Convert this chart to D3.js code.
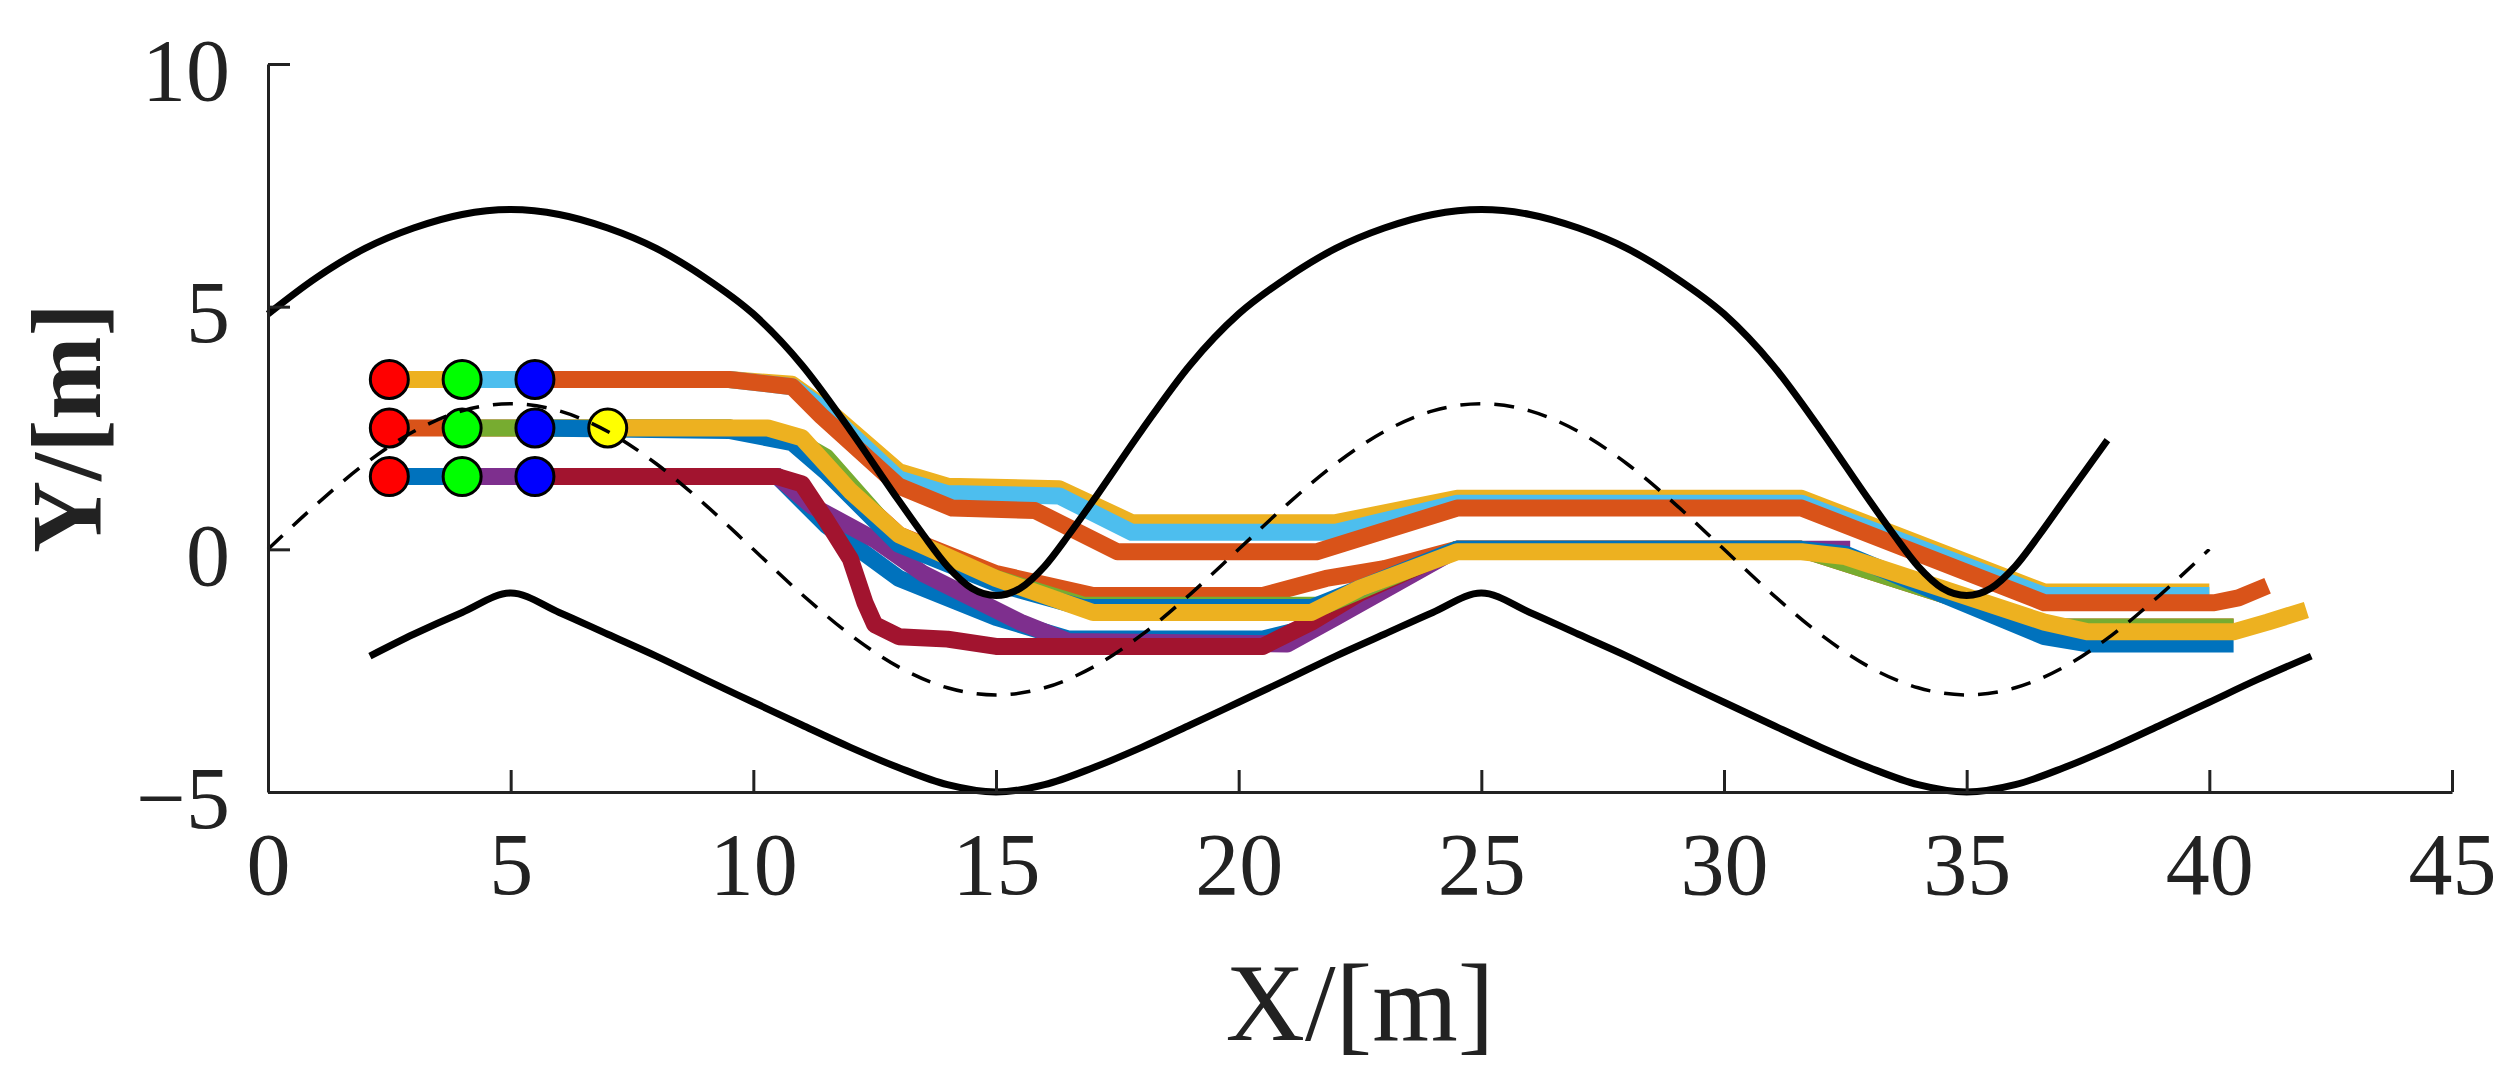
<!DOCTYPE html>
<html><head><meta charset="utf-8">
<script src="https://cdn.jsdelivr.net/npm/d3@7"></script>
<style>body{margin:0;background:#fff}</style></head>
<body><svg id="c" width="2508" height="1073"></svg>
<script>
const xTicks=[0,5,10,15,20,25,30,35,40,45];
const yTicks=[-5,0,5,10];
const upperBound=[[0,4.85],[1,5.6],[2,6.2],[3,6.62],[4,6.9],[5,7.0],[6,6.9],[7,6.62],[8,6.2],[9,5.6],[10,4.85],[11,3.8],[12,2.45],[13,1.0],[13.5,0.3],[14,-0.35],[14.5,-0.8],[15,-0.95],[15.5,-0.8],[16,-0.35],[16.5,0.3],[17,1.0],[18,2.45],[19,3.8],[20,4.85],[21,5.6],[22,6.2],[23,6.62],[24,6.9],[25,7],[26,6.9],[27,6.62],[28,6.2],[29,5.6],[30,4.85],[31,3.8],[32,2.45],[33,1.0],[33.5,0.3],[34,-0.35],[34.5,-0.8],[35,-0.95],[35.5,-0.8],[36,-0.35],[36.5,0.3],[37,1.0],[37.9,2.25]];
const lowerBound=[[2.1,-2.2],[3,-1.75],[4,-1.3],[5,-0.9],[6,-1.3],[7,-1.75],[8,-2.2],[9,-2.68],[10,-3.15],[11,-3.62],[12,-4.08],[13,-4.5],[14,-4.85],[15,-5],[16,-4.85],[17,-4.5],[18,-4.08],[19,-3.62],[20,-3.15],[21,-2.68],[22,-2.2],[23,-1.75],[24,-1.3],[25,-0.9],[26,-1.3],[27,-1.75],[28,-2.2],[29,-2.68],[30,-3.15],[31,-3.62],[32,-4.08],[33,-4.5],[34,-4.85],[35,-5],[36,-4.85],[37,-4.5],[38,-4.08],[39,-3.62],[40,-3.15],[41,-2.68],[42.1,-2.2]];
const centerLine=[[0,0],[1,0.927],[2,1.763],[3,2.427],[4,2.853],[5,3],[6,2.853],[7,2.427],[8,1.763],[9,0.927],[10,0],[11,-0.927],[12,-1.763],[13,-2.427],[14,-2.853],[15,-3],[16,-2.853],[17,-2.427],[18,-1.763],[19,-0.927],[20,0],[21,0.927],[22,1.763],[23,2.427],[24,2.853],[25,3],[26,2.853],[27,2.427],[28,1.763],[29,0.927],[30,0],[31,-0.927],[32,-1.763],[33,-2.427],[34,-2.853],[35,-3],[36,-2.853],[37,-2.427],[38,-1.763],[39,-0.927],[40,0]];
const trajTopYellow=[[2.5,3.5],[9.5,3.5],[10.8,3.4],[11.5,2.9],[13,1.6],[14,1.3],[16.3,1.25],[17.8,0.55],[22,0.55],[24.5,1.05],[31.6,1.05],[36.6,-0.88],[40,-0.88]];
const trajTopLightBlue=[[4,3.5],[9.5,3.5],[10.8,3.35],[11.5,2.85],[13,1.45],[14,1.15],[16.3,1.1],[17.8,0.35],[22,0.35],[24.5,0.95],[31.6,0.95],[36.6,-0.95],[40,-0.95]];
const trajTopOrange=[[5.5,3.5],[9.5,3.5],[10.8,3.35],[11.4,2.75],[13,1.3],[14.1,0.85],[15.8,0.8],[17.5,-0.05],[21.6,-0.05],[24.5,0.85],[31.6,0.85],[36.6,-1.1],[40.1,-1.1],[40.6,-1.0],[41.2,-0.75]];
const trajBotBlue=[[2.5,1.5],[10.5,1.5],[11.5,0.5],[13,-0.6],[15,-1.4],[16.5,-1.85],[20.5,-1.85],[21.5,-1.6],[24.5,0],[31.6,0]];
const trajBotPurple=[[4,1.5],[10.5,1.5],[11.2,0.9],[12.5,0.2],[13.5,-0.5],[15.5,-1.5],[16.5,-1.9],[21,-1.95],[22,-1.4],[24.5,0],[32.6,0]];
const trajBotRed=[[5.5,1.5],[10.5,1.5],[11,1.35],[11.5,0.6],[12,-0.2],[12.3,-1.1],[12.5,-1.55],[13,-1.8],[14,-1.85],[15,-2.0],[20.5,-2.0],[21.5,-1.5],[22.5,-0.9],[24.5,0],[31.6,0]];
const trajMidOrange=[[2.5,2.5],[9.5,2.5],[10.8,2.3],[13,0.3],[15,-0.5],[17,-0.95],[20.5,-0.95],[21.8,-0.6],[23,-0.4],[24.5,0],[31.6,0],[36.6,-1.6],[40.5,-1.6]];
const trajMidGreen=[[4,2.5],[9.5,2.5],[10.8,2.3],[11.5,1.9],[13,0.2],[15,-0.6],[16.8,-1.15],[21.8,-1.15],[24.5,0],[31.6,0],[36.6,-1.6],[40.5,-1.6]];
const trajMidBlue=[[5.5,2.5],[9.5,2.45],[10.8,2.2],[11.5,1.6],[13,0.1],[15,-0.7],[16.8,-1.2],[21.5,-1.2],[24.5,0],[31.6,0],[32.5,-0.1],[36.6,-1.8],[37.5,-1.95],[40.5,-1.95]];
const trajMidYellow=[[7,2.5],[10.3,2.5],[11,2.3],[12,1.2],[13,0.3],[15,-0.6],[17,-1.3],[21.5,-1.3],[22.5,-0.8],[24.5,-0.05],[31.6,-0.05],[32.5,-0.15],[36.6,-1.5],[37.5,-1.7],[40.5,-1.7],[41.2,-1.5],[42,-1.25]];
const trajectories=[trajTopYellow,trajTopLightBlue,trajTopOrange,trajBotBlue,trajBotPurple,trajBotRed,trajMidOrange,trajMidGreen,trajMidBlue,trajMidYellow];
const trajColors=["#EDB120","#4DBEEE","#D95319","#0072BD","#7E2F8E","#A2142F","#D95319","#77AC30","#0072BD","#EDB120"];
const markerX=[2.5,4,5.5,2.5,4,5.5,7,2.5,4,5.5];
const markerY=[3.5,3.5,3.5,2.5,2.5,2.5,2.5,1.5,1.5,1.5];
const markerColors=["#FF0000","#00FF00","#0000FF","#FF0000","#00FF00","#0000FF","#FFFF00","#FF0000","#00FF00","#0000FF"];

const svg=d3.select("#c");
const x=d3.scaleLinear().domain([0,45]).range([268,2452]);
const y=d3.scaleLinear().domain([-5,10]).range([792,64]);
const line=d3.line().x(d=>x(d[0])).y(d=>y(d[1]));
const smooth=d3.line().x(d=>x(d[0])).y(d=>y(d[1])).curve(d3.curveMonotoneX);

trajectories.forEach((t,i)=>svg.append("path").attr("d",line(t)).attr("fill","none")
  .attr("stroke",trajColors[i]).attr("stroke-width",17).attr("stroke-linejoin","round"));
[upperBound,lowerBound].forEach(b=>svg.append("path").attr("d",smooth(b)).attr("fill","none")
  .attr("stroke","#000").attr("stroke-width",7));
svg.selectAll("circle.m").data(markerX).enter().append("circle")
  .attr("cx",(d)=>x(d)).attr("cy",(d,i)=>y(markerY[i])).attr("r",19)
  .attr("fill",(d,i)=>markerColors[i]).attr("stroke","#000").attr("stroke-width",3);
svg.append("path").attr("d",smooth(centerLine)).attr("fill","none").attr("stroke","#000")
  .attr("stroke-width",3.5).attr("stroke-dasharray","20,14");

const xa=svg.append("g").attr("transform","translate(0,792)")
  .call(d3.axisBottom(x).tickValues(xTicks).tickSizeInner(-22).tickSizeOuter(0).tickPadding(40));
const ya=svg.append("g").attr("transform","translate(268,0)")
  .call(d3.axisLeft(y).tickValues(yTicks).tickSizeInner(-22).tickSizeOuter(0).tickPadding(38).tickFormat(d=>d<0?"\u2212"+Math.abs(d):d));
[xa,ya].forEach(a=>{a.select(".domain").attr("stroke","#222").attr("stroke-width",3);
  a.selectAll(".tick line").attr("stroke","#222").attr("stroke-width",3);
  a.selectAll("text").attr("font-family","Liberation Serif").attr("font-size",88).attr("fill","#222");});
xa.selectAll("text").attr("dy","0.71em");
ya.selectAll("text").attr("dy","0.4em");
svg.append("text").attr("x",1360).attr("y",1040).attr("text-anchor","middle")
  .attr("font-family","Liberation Serif").attr("font-size",110).attr("fill","#222").text("X/[m]");
svg.append("text").attr("transform","translate(100,428) rotate(-90)").attr("text-anchor","middle")
  .attr("font-family","Liberation Serif").attr("font-weight","bold").attr("font-size",100).attr("fill","#222").text("Y/[m]");
</script></body></html>
